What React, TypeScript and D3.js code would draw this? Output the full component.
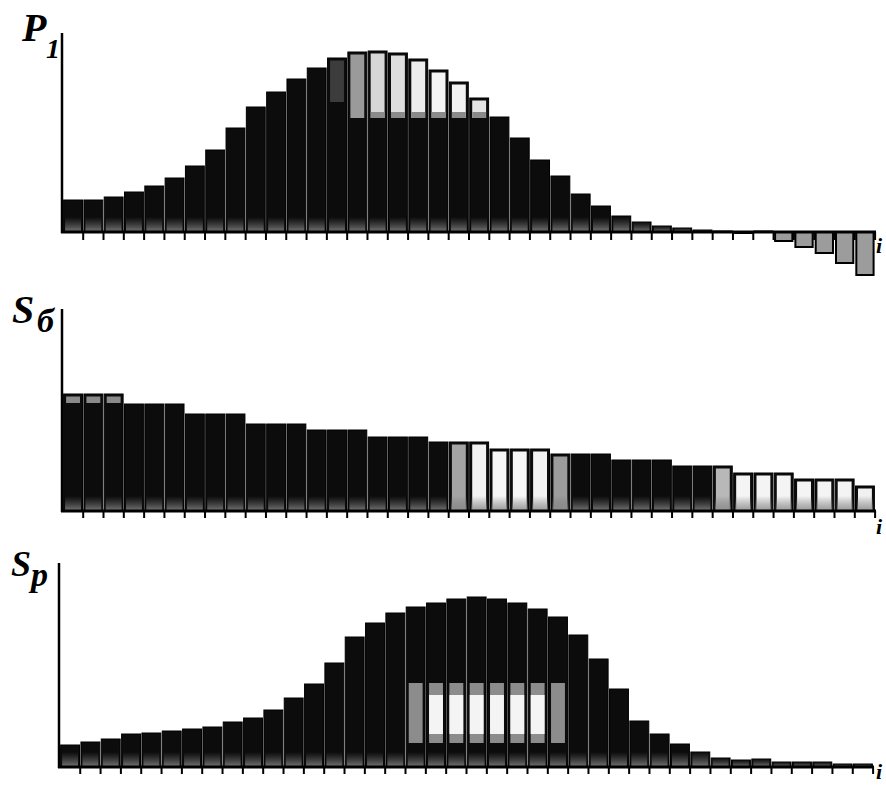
import React from 'react';
import * as d3 from 'd3';

// values (arbitrary units, axis top = max)
const p1Values = [32, 32, 35, 40, 46, 54, 66, 82, 104, 125, 140, 153, 164, 174, 180, 181, 179, 173, 162, 150,
  134, 115, 94, 72, 56, 38, 26, 16, 10, 6, 4, 2, 1, -1, 1, -9, -15, -21, -31, -43];
const s6Values = [117, 117, 117, 107, 107, 107, 97, 97, 97, 87, 87, 87, 81, 81, 81, 74, 74, 74, 69, 69,
  69, 62, 62, 62, 57, 57, 57, 51, 51, 51, 45, 45, 45, 38, 38, 38, 32, 32, 32, 25];
const spValues = [22, 25, 28, 33, 34, 36, 38, 40, 45, 49, 57, 69, 83, 104, 130, 144, 154, 160, 164, 168,
  170, 168, 164, 158, 150, 132, 108, 78, 46, 33, 23, 15, 9, 7, 8, 5, 5, 5, 3, 3];

// shaded parts of bars: bar index, lower value, upper value (null = top of bar), tone
const p1Shades = [
  { bar: 13, lo: 130, hi: null, tone: '#3c3c3c' },
  { bar: 14, lo: 114, hi: null, tone: '#9a9a9a' },
  { bar: 15, lo: 114, hi: null, tone: '#d6d6d6' },
  { bar: 16, lo: 114, hi: null, tone: '#dedede' },
  { bar: 17, lo: 114, hi: null, tone: '#ededed' },
  { bar: 18, lo: 114, hi: null, tone: '#f4f4f4' },
  { bar: 19, lo: 114, hi: null, tone: '#f2f2f2' },
  { bar: 20, lo: 114, hi: null, tone: '#e4e4e4' },
];
const s6Shades = [
  { bar: 0, lo: 108, hi: null, tone: '#8a8a8a' },
  { bar: 1, lo: 108, hi: null, tone: '#8a8a8a' },
  { bar: 2, lo: 108, hi: null, tone: '#8a8a8a' },
  { bar: 19, lo: 0, hi: null, tone: '#a4a4a4' },
  { bar: 20, lo: 0, hi: null, tone: '#f2f2f2' },
  { bar: 21, lo: 0, hi: null, tone: '#f6f6f6' },
  { bar: 22, lo: 0, hi: null, tone: '#f6f6f6' },
  { bar: 23, lo: 0, hi: null, tone: '#f2f2f2' },
  { bar: 24, lo: 0, hi: null, tone: '#9c9c9c' },
  { bar: 32, lo: 0, hi: null, tone: '#b8b8b8' },
  { bar: 33, lo: 0, hi: null, tone: '#f4f4f4' },
  { bar: 34, lo: 0, hi: null, tone: '#f4f4f4' },
  { bar: 35, lo: 0, hi: null, tone: '#f4f4f4' },
  { bar: 36, lo: 0, hi: null, tone: '#f4f4f4' },
  { bar: 37, lo: 0, hi: null, tone: '#f4f4f4' },
  { bar: 38, lo: 0, hi: null, tone: '#f4f4f4' },
  { bar: 39, lo: 0, hi: null, tone: '#f0f0f0' },
];
const spBand = [24, 84];
const spBandCore = [33, 72];
const spBandBars = [17, 18, 19, 20, 21, 22, 23, 24];
const spBandGrey = [17, 24];

const panels = [
  { id: 'p1', values: p1Values, shades: p1Shades, max: 199, x0: 63, x1: 875, base: 232, top: 33, tick: 8,
    main: 'P', sub: '1', mainX: 22, mainY: 41, mainSize: 40, subX: 46, subY: 58, subSize: 28, iY: 253, iSize: 22 },
  { id: 's6', values: s6Values, shades: s6Shades, max: 202, x0: 63, x1: 875, base: 511, top: 309, tick: 7,
    main: 'S', sub: 'б', mainX: 12, mainY: 323, mainSize: 40, subX: 37, subY: 332, subSize: 34, iY: 534, iSize: 22 },
  { id: 'sp', values: spValues, shades: [], max: 204, x0: 60, x1: 873, base: 767, top: 563, tick: 7,
    main: 'S', sub: 'р', mainX: 11, mainY: 576, mainSize: 36, subX: 31, subY: 586, subSize: 34, iY: 779, iSize: 22 },
];

const labelStyle: React.CSSProperties = {
  fontFamily: "'Liberation Serif', 'Times New Roman', serif",
  fontWeight: 700,
  fontStyle: 'italic',
};

function Panel({ p }: { p: any }) {
  const x = d3.scaleBand<number>().domain(d3.range(p.values.length)).range([p.x0, p.x1])
    .paddingInner(0.07).paddingOuter(0.03);
  const y = d3.scaleLinear().domain([0, p.max]).range([p.base, p.top]);
  const bw = x.bandwidth();
  const step = x.step();
  const fadeH = 15;

  return (
    <g>
      {p.values.map((v: number, i: number) => {
        const bx = x(i)!;
        if (v < 0) {
          return (
            <rect key={i} x={bx + 0.8} y={p.base} width={bw - 1.6} height={y(0) - y(-v)}
              fill="#9c9c9c" stroke="#000" strokeWidth={2} />
          );
        }
        const top = y(v);
        const h = p.base - top;
        const fh = Math.min(fadeH, h);
        return (
          <g key={i}>
            <rect x={bx} y={top} width={bw} height={h} fill="#0c0c0c" stroke="#000" strokeWidth={1} />
            {p.shades.filter((s: any) => s.bar === i).map((s: any, k: number) => {
              const hiY = s.hi == null ? top + 2.5 : y(s.hi);
              const loY = s.lo <= 0 ? p.base - 1 : y(s.lo);
              return (
                <g key={k}>
                  <rect x={bx + 2.5} y={hiY} width={bw - 5} height={Math.max(0, loY - hiY)} fill={s.tone} />
                  {s.lo > 0 && s.tone > '#c' ? (
                    <rect x={bx + 2.5} y={loY - 6} width={bw - 5} height={6} fill="#8a8a8a" />
                  ) : null}
                </g>
              );
            })}
            {p.id === 'sp' && spBandBars.includes(i) ? (
              <g>
                <rect x={bx + 2.5} y={y(spBand[1])} width={bw - 5} height={y(spBand[0]) - y(spBand[1])} fill="#8c8c8c" />
                {spBandGrey.includes(i) ? null : (
                  <rect x={bx + 2.5} y={y(spBandCore[1])} width={bw - 5}
                    height={y(spBandCore[0]) - y(spBandCore[1])} fill="#f4f4f4" />
                )}
              </g>
            ) : null}
            <rect x={bx + 1.5} y={p.base - fh} width={Math.max(0, bw - 3)} height={fh} fill="url(#baseFade)" />
          </g>
        );
      })}
      {/* axes */}
      <line x1={p.x0 - 1} x2={p.x0 - 1} y1={p.top} y2={p.base + 1} stroke="#000" strokeWidth={2.5} />
      <line x1={p.x0 - 2} x2={p.x1 + 1} y1={p.base} y2={p.base} stroke="#000" strokeWidth={3} />
      {p.values.map((_: number, i: number) => {
        const tx = x(i)! + bw + (step - bw) / 2;
        return <line key={'t' + i} x1={tx} x2={tx} y1={p.base} y2={p.base + p.tick} stroke="#000" strokeWidth={2} />;
      })}
      <text x={p.mainX} y={p.mainY} style={labelStyle} fontSize={p.mainSize}>{p.main}</text>
      <text x={p.subX} y={p.subY} style={labelStyle} fontSize={p.subSize}>{p.sub}</text>
      <text x={876} y={p.iY} style={labelStyle} fontSize={p.iSize}>i</text>
    </g>
  );
}

export default function App() {
  return (
    <svg width={886} height={785} style={{ position: 'absolute', left: 0, top: 0, background: '#fff' }}>
      <defs>
        <linearGradient id="baseFade" x1="0" y1="0" x2="0" y2="1">
          <stop offset="0" stopColor="#6a6a6a" stopOpacity={0} />
          <stop offset="1" stopColor="#8a8a8a" stopOpacity={0.85} />
        </linearGradient>
      </defs>
      <rect width={886} height={785} fill="#fff" />
      {panels.map(p => <Panel key={p.id} p={p} />)}
    </svg>
  );
}
